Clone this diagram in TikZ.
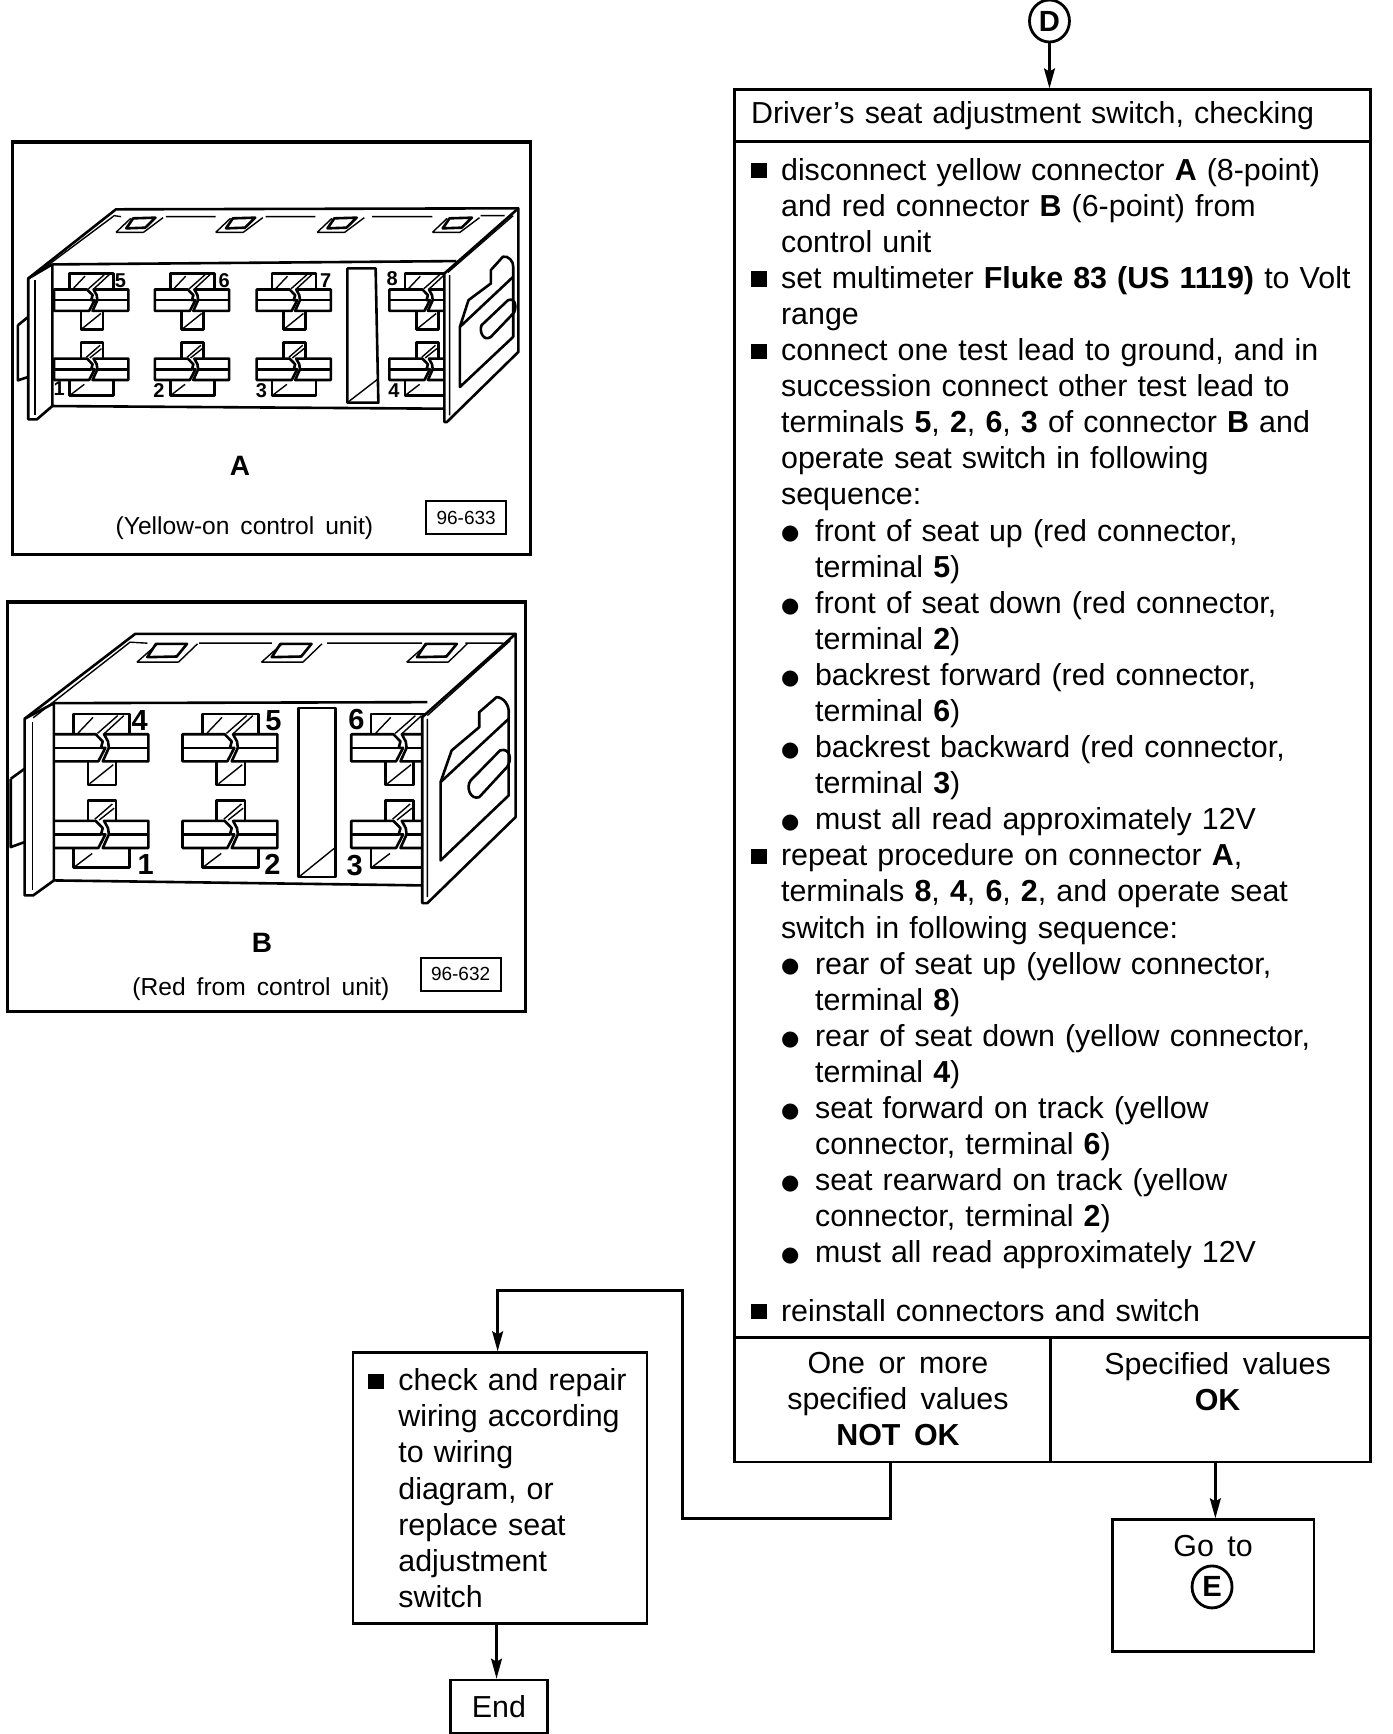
\documentclass[tikz,border=0pt]{standalone}
\usepackage{fontspec}
\setmainfont{Liberation Sans}[WordSpace=1.6]
\newfontfamily\symfont{DejaVu Sans}
\usetikzlibrary{arrows.meta,positioning,shapes.geometric}
% list marks and indents
\newcommand{\sqmark}{\makebox[15pt][l]{\raisebox{.8pt}{\rule{7.7pt}{7.7pt}}}}
\newcommand{\dotmark}{\hspace*{15pt}\makebox[17pt][l]{\raisebox{.6pt}{\fontsize{10.5}{12}\symfont ●}}}
\newcommand{\indA}{\hspace*{15pt}}
\newcommand{\indB}{\hspace*{32pt}}
% terminal: centre x, centre y, size
\newcommand{\termbar}{%
  \draw[conn, fill=white] (-108,-32) -- (-12,-32) -- (4,-15) -- (0,0) -- (10,0) -- (-6,32) -- (-108,32) -- cycle;
  \draw[conn, fill=white] (7,-32) -- (108,-32) -- (108,32) -- (4,32) -- (18,0) -- (16,-15) -- cycle;
  \draw[conn] (-108,0) -- (0,0) (16,0) -- (108,0);
}
\newcommand{\termup}[3]{\begin{scope}[shift={(#1,#2)}, scale=#3]
  \draw[conn, fill=white] (-63,-32) -- (-63,-80) -- (65,-80) -- (65,-32);
  \draw[fine] (-52,-35) -- (-18,-72);
  \draw[fine] (-8,-34) -- (38,-76) (8,-34) -- (52,-76);
  \draw[conn, fill=white] (-30,32) -- (-30,88) -- (34,88) -- (34,32);
  \draw[fine] (-26,85) -- (28,40);
  \termbar
\end{scope}}
\newcommand{\termlow}[3]{\begin{scope}[shift={(#1,#2)}, scale=#3]
  \draw[conn, fill=white] (-30,-32) -- (-30,-80) -- (34,-80) -- (34,-32);
  \draw[fine] (-14,-36) -- (26,-72) (-4,-34) -- (30,-62);
  \draw[conn, fill=white] (-63,32) -- (-63,78) -- (65,78) -- (65,32);
  \draw[fine] (-58,75) -- (-20,45);
  \termbar
\end{scope}}
\begin{document}
\begin{tikzpicture}[
  x=.553pt, y=-.553pt,
  conn/.style={line width=1.3pt, line join=round},
  fine/.style={line width=.7pt},
  textfont/.style={font=\fontsize{15.2}{18.05}\selectfont},
  box/.style={rectangle, draw, line width=1.3pt, inner sep=0pt, textfont},
  listbox/.style={box, align=left, anchor=north west},
  frame/.style={rectangle, draw, line width=1.6pt, anchor=north west},
  plain/.style={inner sep=0pt, align=center, textfont},
  refbox/.style={rectangle, draw, line width=1pt, minimum width=40pt, minimum height=16.5pt, inner sep=0pt, font=\fontsize{9.5}{11}\selectfont},
  caption/.style={inner sep=0pt, font=\fontsize{12.3}{14}\selectfont},
  letter/.style={inner sep=0pt, font=\fontsize{14}{16}\selectfont\bfseries},
  pinA/.style={inner sep=0pt, font=\fontsize{10}{11}\selectfont\bfseries},
  pinB/.style={inner sep=0pt, font=\fontsize{14.5}{15}\selectfont\bfseries},
  ringmark/.style={ellipse, draw, line width=1.4pt, inner sep=0pt, minimum width=20pt, minimum height=21pt, font=\fontsize{14.6}{16}\selectfont\bfseries},
  arrow/.style={-{Stealth[length=10pt,width=5.4pt,inset=1.5pt]}, line width=1.4pt},
]
\useasboundingbox (0,0) rectangle (1259,1568);

% connector A
\node[frame, minimum width=258.8pt, minimum height=206.3pt] (frameA) at (10,127) {};
\begin{scope}[shift={(.67,115.9)}, xscale=.311, yscale=.302]
\foreach \cx in {263,556,852,1238} {
  \termup{\cx}{515}{1}
  \termlow{\cx}{722}{1}
}
\draw[conn] (150,408) -- (1325,398);
\draw[conn] (150,832) -- (1290,840);
\draw[conn] (1008,420) -- (1090,420) -- (1098,822) -- (1008,822) -- cycle;
\draw[fine] (1010,820) -- (1098,750);
% left flange and top
\draw[conn, fill=white] (80,450) -- (150,408) -- (150,832) -- (105,872) -- (80,872) -- cycle;
\draw[fine] (100,455) -- (100,860);
\draw[conn] (50,590) -- (80,565) (50,590) -- (50,755) -- (80,745);
\draw[conn] (80,450) -- (335,243) -- (1505,240);
\draw[fine] (92,445) -- (330,262) -- (350,265) (480,265) -- (625,265) (770,265) -- (915,265) (1080,265) -- (1255,265) (1395,262) -- (1465,262);
\foreach \cx in {400,690,985,1320} {
  \draw[fine] (\cx-65,312) -- (\cx-22,270) (\cx+15,312) -- (\cx-65,312) (\cx+15,312) -- (\cx+72,268);
  \draw[conn] (\cx-35,300) -- (\cx-15,270) -- (\cx+50,268) -- (\cx+20,298) -- cycle;
}
% right panel
\draw[conn, fill=white] (1290,435) -- (1505,240) -- (1505,670) -- (1297,880) -- (1290,880) -- cycle;
\draw[fine] (1300,432) -- (1490,262) (1305,440) -- (1305,860);
\draw[conn] (1335,775) -- (1335,595) -- (1360,515) -- (1425,465) -- (1425,425) -- (1460,385) .. controls (1475,380) and (1492,400) .. (1490,415) -- (1490,625) -- cycle;
\draw[conn] (1335,595) -- (1490,445);
\draw[conn] (1398,590) -- (1475,515) .. controls (1500,505) and (1500,545) .. (1490,555) -- (1425,625) .. controls (1405,640) and (1390,610) .. (1398,590) -- cycle;
\foreach \px/\py/\num in {348/458/5, 650/455/6, 945/455/7, 1138/450/8, 170/780/1, 460/785/2, 758/785/3, 1143/785/4}
  \node[pinA] (pa\num) at (\px,\py) {\num};
\end{scope}
\node[letter] (nameA) at (217,421) {A};
\node[caption] (capA) at (221,478) {(Yellow-on control unit)};
\node[refbox] (refA) at (421.5,468) {96-633};

% connector B
\node[frame, minimum width=259.3pt, minimum height=204.6pt] (frameB) at (5,543) {};
\begin{scope}[shift={(-1.25,534)}, xscale=.3127, yscale=.3013]
\foreach \cx in {296,669,1157} {
  \termup{\cx}{472}{1.27}
  \termlow{\cx}{732}{1.27}
}
\draw[conn] (160,338) -- (1240,335);
\draw[conn] (160,870) -- (1225,885);
\draw[conn] (868,352) -- (975,352) -- (975,860) -- (868,860) -- cycle;
\draw[fine] (868,860) -- (975,770);
% left flange and top
\draw[conn, fill=white] (75,385) -- (160,338) -- (160,870) -- (100,915) -- (75,915) -- cycle;
\draw[fine] (98,395) -- (98,900);
\draw[conn] (35,565) -- (75,535) (35,565) -- (35,770) -- (75,755);
\draw[conn] (75,385) -- (395,130) -- (1495,130);
\draw[fine] (100,382) -- (380,155) -- (430,158) (580,158) -- (790,158) (950,158) -- (1225,158) (1350,158) -- (1460,158);
\foreach \cx in {490,850,1270} {
  \draw[fine] (\cx-90,215) -- (\cx-30,160) (\cx+30,215) -- (\cx-90,215) (\cx+30,215) -- (\cx+85,160);
  \draw[conn] (\cx-60,200) -- (\cx-35,160) -- (\cx+55,160) -- (\cx+25,198) -- cycle;
}
% right panel
\draw[conn, fill=white] (1225,380) -- (1495,130) -- (1495,680) -- (1240,938) -- (1225,938) -- cycle;
\draw[fine] (1240,375) -- (1480,150) (1240,385) -- (1240,920);
\draw[conn] (1278,810) -- (1278,575) -- (1310,480) -- (1390,410) -- (1390,365) -- (1440,320) .. controls (1460,320) and (1478,345) .. (1475,370) -- (1475,615) -- cycle;
\draw[conn] (1278,575) -- (1475,385);
\draw[conn] (1365,570) -- (1450,480) .. controls (1480,470) and (1485,510) .. (1470,530) -- (1390,620) .. controls (1365,630) and (1350,590) .. (1365,570) -- cycle;
\foreach \px/\py/\num in {408/390/4, 795/390/5, 1035/388/6, 425/822/1, 792/822/2, 1030/825/3}
  \node[pinB] (pb\num) at (\px,\py) {\num};
\end{scope}
\node[letter] (nameB) at (237,853) {B};
\node[caption] (capB) at (236,894) {(Red from control unit)};
\node[refbox] (refB) at (416.5,881) {96-632};

% flow chart
\node[ringmark] (markD) at (949,19) {D};
\node[listbox, minimum height=26pt, inner xsep=8.3pt, text width=301.4pt] (head) at (663,80) {\raisebox{-1.1pt}{Driver's seat adjustment switch, checking}};
\node[listbox, minimum height=598pt, inner xsep=8.3pt, text width=301.4pt] (body) at (663,127) {%
\sqmark disconnect yellow connector \textbf{A} (8-point)\\
\indA and red connector \textbf{B} (6-point) from\\
\indA control unit\\
\sqmark set multimeter \textbf{Fluke 83 (US 1119)} to Volt\\
\indA range\\
\sqmark connect one test lead to ground, and in\\
\indA succession connect other test lead to\\
\indA terminals \textbf{5}, \textbf{2}, \textbf{6}, \textbf{3} of connector \textbf{B} and\\
\indA operate seat switch in following\\
\indA sequence:\\
\dotmark front of seat up (red connector,\\
\indB terminal \textbf{5})\\
\dotmark front of seat down (red connector,\\
\indB terminal \textbf{2})\\
\dotmark backrest forward (red connector,\\
\indB terminal \textbf{6})\\
\dotmark backrest backward (red connector,\\
\indB terminal \textbf{3})\\
\dotmark must all read approximately 12V\\
\sqmark repeat procedure on connector \textbf{A},\\
\indA terminals \textbf{8}, \textbf{4}, \textbf{6}, \textbf{2}, and operate seat\\
\indA switch in following sequence:\\
\dotmark rear of seat up (yellow connector,\\
\indB terminal \textbf{8})\\
\dotmark rear of seat down (yellow connector,\\
\indB terminal \textbf{4})\\
\dotmark seat forward on track (yellow\\
\indB connector, terminal \textbf{6})\\
\dotmark seat rearward on track (yellow\\
\indB connector, terminal \textbf{2})\\
\dotmark must all read approximately 12V\\[11pt]
\sqmark reinstall connectors and switch};
\node[box, anchor=north west, minimum width=158pt, minimum height=62.5pt] (notok) at (663,1208) {};
\node[plain] (notoktext) at (812,1265) {One or more\\ specified values\\ \textbf{NOT OK}};
\node[box, anchor=north west, minimum width=160pt, minimum height=62.5pt] (okv) at (949,1208) {};
\node[plain] (okvtext) at (1101,1249) {Specified values\\ \textbf{OK}};
\node[box, anchor=north west, minimum width=100.6pt, minimum height=65.8pt] (goto) at (1005,1373) {};
\node[plain] (gototext) at (1097,1398) {Go to};
\node[ringmark] (markE) at (1096,1435) {E};
\node[listbox, minimum height=135.5pt, inner xsep=7.7pt, text width=131.6pt] (check) at (318,1222) {%
\sqmark check and repair\\
\indA wiring according\\
\indA to wiring\\
\indA diagram, or\\
\indA replace seat\\
\indA adjustment\\
\indA switch};
\node[box, anchor=north west, minimum width=48.7pt, minimum height=26.5pt] (endb) at (406,1518) {End};

\coordinate (nokout) at (805,1321);
\coordinate (turn) at (617,1167);
\coordinate (okout) at (1099,1321);
\coordinate (checkin) at (450,1167);
\coordinate (checkout) at (449,1467);
\draw[arrow] (markD.south) -- (markD.south |- head.north);
\draw[arrow] (okout) -- (okout |- goto.north);
\draw[arrow] (nokout) -- ++(0,52) -| (turn) -| (checkin) -- (checkin |- check.north);
\draw[arrow] (checkout) -- (checkout |- endb.north);
\end{tikzpicture}
\end{document}
